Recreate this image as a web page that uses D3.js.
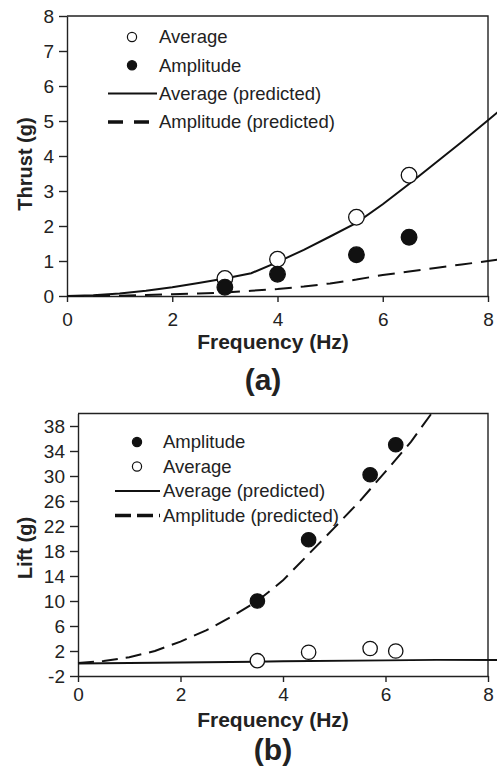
<!DOCTYPE html>
<html>
<head>
<meta charset="utf-8">
<script src="https://cdn.jsdelivr.net/npm/d3@7"></script>
<style>
  body { margin: 0; background: #fff; }
  svg { display: block; font-family: "Liberation Sans", Arial, sans-serif; }
  .axis path, .axis line { stroke: #222; stroke-width: 1.4; }
  .axis text { fill: #222; font-size: 19px; }
</style>
</head>
<body>
<div id="chart"></div>
<script>
// (a) thrust
var thrustFreq = [0, 0.5, 1, 1.5, 2, 2.5, 3, 3.5, 4, 4.5, 5, 5.5, 6, 6.5, 7, 7.5, 8, 8.2];
var thrustAvgPred = [0, 0.02, 0.07, 0.15, 0.25, 0.37, 0.5, 0.65, 0.97, 1.32, 1.7, 2.09, 2.62, 3.2, 3.8, 4.4, 5.02, 5.27];
var thrustAmpPred = [0, 0.003, 0.01, 0.03, 0.05, 0.07, 0.1, 0.15, 0.2, 0.27, 0.36, 0.47, 0.6, 0.7, 0.8, 0.9, 1.0, 1.04];
var thrustPtFreq = [3, 4, 5.5, 6.5];
var thrustAvg = [0.5, 1.05, 2.25, 3.45];
var thrustAmp = [0.25, 0.62, 1.18, 1.68];

// (b) lift
var liftAmpFreq = [0, 0.5, 1, 1.5, 2, 2.5, 3, 3.5, 4, 4.5, 5, 5.5, 6, 6.5, 6.95];
var liftAmpPred = [0.1, 0.4, 1.0, 2.0, 3.5, 5.3, 7.5, 10, 13.3, 17.5, 21.7, 26, 30.7, 35.5, 40.6];
var liftAvgFreq = [0, 2, 4, 6, 7, 8.2];
var liftAvgPred = [0, 0.15, 0.35, 0.5, 0.58, 0.55];
var liftPtFreq = [3.5, 4.5, 5.7, 6.2];
var liftAmp = [10, 19.8, 30.2, 35];
var liftAvg = [0.45, 1.8, 2.4, 2.0];

var xTicks = [0, 2, 4, 6, 8];
var thrustTicks = [0, 1, 2, 3, 4, 5, 6, 7, 8];
var liftTicks = [-2, 2, 6, 10, 14, 18, 22, 26, 30, 34, 38];

var W = 497, H = 769;
var svg = d3.select("#chart").append("svg").attr("width", W).attr("height", H);

function zip(xs, ys) { return xs.map(function(x, i) { return [x, ys[i]]; }); }

function panel(cfg) {
    var x = d3.scaleLinear().domain([0, 8]).range([cfg.left, cfg.right]);
    var y = d3.scaleLinear().domain(cfg.yDomain).range([cfg.bottom, cfg.top]);
    var g = svg.append("g");

    // frame top + right
    g.append("path")
        .attr("d", "M" + cfg.left + "," + cfg.top + "H" + cfg.right + "V" + cfg.bottom)
        .attr("fill", "none").attr("stroke", "#222").attr("stroke-width", 1.4);

    g.append("g").attr("class", "axis")
        .attr("transform", "translate(0," + cfg.bottom + ")")
        .call(d3.axisBottom(x).tickValues(xTicks).tickSize(6).tickPadding(cfg.xPad).tickSizeOuter(0).tickFormat(String));

    g.append("g").attr("class", "axis")
        .attr("transform", "translate(" + cfg.left + ",0)")
        .call(d3.axisLeft(y).tickValues(cfg.yTicks).tickSize(8).tickPadding(5).tickSizeOuter(0).tickFormat(String));

    var line = d3.line().x(function(d) { return x(d[0]); }).y(function(d) { return y(d[1]); });

    cfg.lines.forEach(function(l) {
        g.append("path")
            .datum(zip(l.xs, l.ys))
            .attr("d", line)
            .attr("fill", "none")
            .attr("stroke", "#111")
            .attr("stroke-width", 2)
            .attr("stroke-dasharray", l.dash ? cfg.dash : null);
    });

    cfg.points.forEach(function(p) {
        g.selectAll(null)
            .data(zip(p.xs, p.ys))
            .enter().append("circle")
            .attr("cx", function(d) { return x(d[0]); })
            .attr("cy", function(d) { return y(d[1]); })
            .attr("r", cfg.r)
            .attr("fill", p.filled ? "#111" : "#fff")
            .attr("stroke", "#111")
            .attr("stroke-width", 1.3);
    });

    // legend
    cfg.legend.forEach(function(item, i) {
        var ly = cfg.legY + i * cfg.legStep;
        if (item.type === "pt") {
            g.append("circle")
                .attr("cx", cfg.legMarkX).attr("cy", ly).attr("r", 4.6)
                .attr("fill", item.filled ? "#111" : "#fff")
                .attr("stroke", "#111").attr("stroke-width", 1.2);
        } else {
            g.append("line")
                .attr("x1", cfg.legLineX0).attr("x2", cfg.legLineX1)
                .attr("y1", ly).attr("y2", ly)
                .attr("stroke", "#111")
                .attr("stroke-width", item.dash ? 3.5 : 2)
                .attr("stroke-dasharray", item.dash ? cfg.legDash : null);
        }
        g.append("text")
            .attr("x", cfg.legTextX).attr("y", ly)
            .attr("dy", "0.35em")
            .attr("font-size", "18.5px").attr("fill", "#222")
            .text(item.label);
    });

    // axis titles
    g.append("text")
        .attr("x", 273).attr("y", cfg.xTitleY)
        .attr("text-anchor", "middle")
        .attr("font-size", "21px").attr("font-weight", "bold").attr("fill", "#222")
        .text("Frequency (Hz)");

    g.append("text")
        .attr("transform", "translate(32," + cfg.yTitleY + ") rotate(-90)")
        .attr("text-anchor", "middle")
        .attr("font-size", "20px").attr("font-weight", "bold").attr("fill", "#222")
        .text(cfg.yTitle);

    g.append("text")
        .attr("x", cfg.tagX).attr("y", cfg.tagY)
        .attr("text-anchor", "middle")
        .attr("font-size", "30px").attr("font-weight", "bold").attr("fill", "#222")
        .text(cfg.tag);
}

panel({
    left: 67, right: 488, top: 16, bottom: 296,
    yDomain: [0, 8], yTicks: thrustTicks, xPad: 11,
    dash: "17,9", r: 7.8,
    lines: [
        {xs: thrustFreq, ys: thrustAvgPred, dash: false},
        {xs: thrustFreq, ys: thrustAmpPred, dash: true}
    ],
    points: [
        {xs: thrustPtFreq, ys: thrustAvg, filled: false},
        {xs: thrustPtFreq, ys: thrustAmp, filled: true}
    ],
    legend: [
        {type: "pt", filled: false, label: "Average"},
        {type: "pt", filled: true, label: "Amplitude"},
        {type: "ln", dash: false, label: "Average (predicted)"},
        {type: "ln", dash: true, label: "Amplitude (predicted)"}
    ],
    legY: 37, legStep: 28.3, legMarkX: 132, legLineX0: 108, legLineX1: 157, legTextX: 159, legDash: "15,11",
    xTitleY: 349, yTitle: "Thrust (g)", yTitleY: 164,
    tag: "(a)", tagX: 263, tagY: 390
});

panel({
    left: 78, right: 488, top: 413.5, bottom: 676,
    yDomain: [-2, 40], yTicks: liftTicks, xPad: 6,
    dash: "16,8", r: 7.2,
    lines: [
        {xs: liftAvgFreq, ys: liftAvgPred, dash: false},
        {xs: liftAmpFreq, ys: liftAmpPred, dash: true}
    ],
    points: [
        {xs: liftPtFreq, ys: liftAmp, filled: true},
        {xs: liftPtFreq, ys: liftAvg, filled: false}
    ],
    legend: [
        {type: "pt", filled: true, label: "Amplitude"},
        {type: "pt", filled: false, label: "Average"},
        {type: "ln", dash: false, label: "Average (predicted)"},
        {type: "ln", dash: true, label: "Amplitude (predicted)"}
    ],
    legY: 442, legStep: 24.5, legMarkX: 137, legLineX0: 115, legLineX1: 160, legTextX: 163, legDash: "16,6",
    xTitleY: 727, yTitle: "Lift (g)", yTitleY: 548,
    tag: "(b)", tagX: 273, tagY: 760
});
</script>
</body>
</html>
